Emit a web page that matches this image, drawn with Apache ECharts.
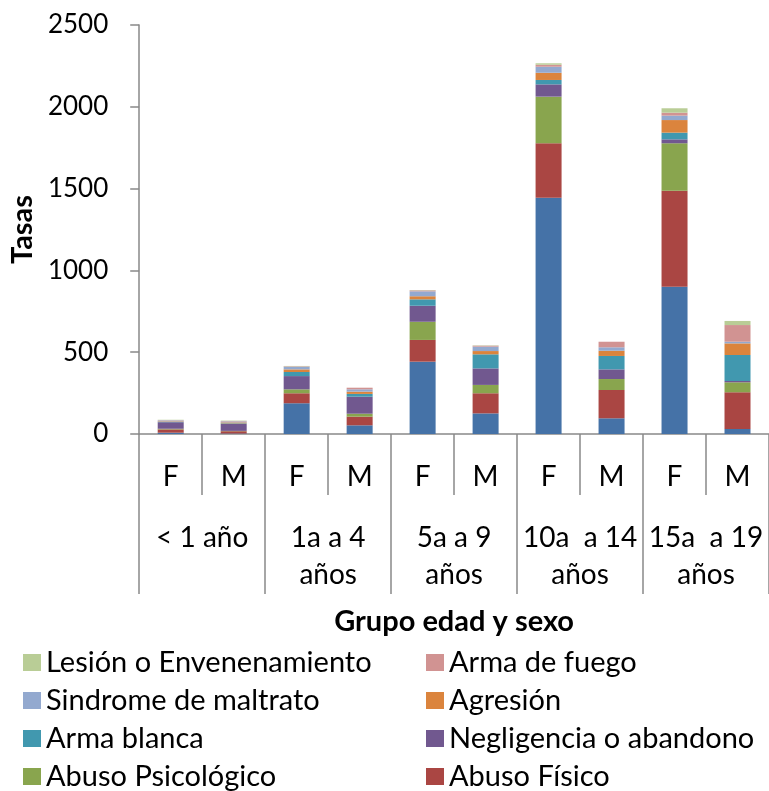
<!DOCTYPE html>
<html>
<head>
<meta charset="utf-8">
<script src="https://cdn.jsdelivr.net/npm/echarts@6/dist/echarts.min.js"></script>
<style>
html,body{margin:0;padding:0;background:#fff;}
#c{width:769px;height:791px;}
</style>
</head>
<body>
<div id="c"></div>
<script>
// Categories
const sexCats = ['F','M','F','M','F','M','F','M','F','M'];
const ageGroups = ['< 1 año','1a a 4\naños','5a a 9\naños','10a  a 14\naños','15a  a 19\naños'];
const yTicks = [0, 500, 1000, 1500, 2000, 2500];

// Series values (bottom to top of the stack)
const abusoSexual      = [8,   3,   188, 53,  442, 126, 1444, 96,  900, 31];
const abusoFisico      = [20,  14,  61,  53,  133, 123, 333,  173, 587, 224];
const abusoPsicologico = [4,   2,   24,  18,  111, 51,  285,  67,  290, 61];
const negligencia      = [40,  42,  81,  104, 98,  101, 75,   59,  24,  8];
const armaBlanca       = [3,   4,   25,  17,  39,  86,  27,   82,  41,  159];
const agresion         = [3,   6,   16,  14,  19,  20,  44,   32,  77,  71];
const sindrome         = [5,   6,   16,  14,  30,  27,  37,   21,  27,  10];
const armaFuego        = [2,   3,   3,   10,  6,   6,   12,   34,  18,  102];
const lesion           = [2,   2,   2,   0,   2,   2,   9,    0,   27,  25];

// Legend order (reading order, two columns)
const legendLeftCol  = ['Lesión o Envenenamiento','Sindrome de maltrato','Arma blanca','Abuso Psicológico'];
const legendRightCol = ['Arma de fuego','Agresión','Negligencia o abandono','Abuso Físico'];

const seriesDefs = [
  {name:'Abuso sexual', data:abusoSexual, color:'#4572A7'},
  {name:'Abuso Físico', data:abusoFisico, color:'#AA4643'},
  {name:'Abuso Psicológico', data:abusoPsicologico, color:'#89A54E'},
  {name:'Negligencia o abandono', data:negligencia, color:'#71588F'},
  {name:'Arma blanca', data:armaBlanca, color:'#4198AF'},
  {name:'Agresión', data:agresion, color:'#DB843D'},
  {name:'Sindrome de maltrato', data:sindrome, color:'#93A9CF'},
  {name:'Arma de fuego', data:armaFuego, color:'#D19392'},
  {name:'Lesión o Envenenamiento', data:lesion, color:'#B9CD96'}
];

const FONT = 'Lato';
const AXIS_COLOR = '#898989';
const chart = echarts.init(document.getElementById('c'), null, {renderer:'canvas'});

const legendText = {fontFamily:FONT, fontSize:29, color:'#000', lineHeight:28};
const rowY = [662, 700, 738, 776];
const legends = [];
legendLeftCol.forEach((n, i) => legends.push({
  left:23, top:rowY[i]-14, orient:'horizontal', itemWidth:18, itemHeight:17,
  icon:'rect', textStyle:legendText, selectedMode:false, padding:0, data:[n]}));
legendRightCol.forEach((n, i) => legends.push({
  left:426, top:rowY[i]-14, orient:'horizontal', itemWidth:18, itemHeight:17,
  icon:'rect', textStyle:legendText, selectedMode:false, padding:0, data:[n]}));

chart.setOption({
  animation:false,
  backgroundColor:'#fff',
  textStyle:{fontFamily:FONT},
  grid:{left:134, right:-3, top:25, bottom:357, containLabel:false},
  legend:legends,
  xAxis:[
    {type:'category', data:sexCats, position:'bottom',
     axisLine:{show:true, lineStyle:{color:AXIS_COLOR, width:1.5}},
     axisTick:{show:true, length:61, interval:0, lineStyle:{color:AXIS_COLOR, width:1.5}},
     axisLabel:{fontFamily:FONT, fontSize:28, color:'#000', margin:29, interval:0}
    },
    {type:'category', data:ageGroups, position:'bottom', offset:0,
     axisLine:{show:false},
     axisTick:{show:true, length:160, interval:0, lineStyle:{color:AXIS_COLOR, width:1.5}},
     axisLabel:{fontFamily:FONT, fontSize:28, color:'#000', margin:85, interval:0, lineHeight:37},
     name:'Grupo edad y sexo', nameLocation:'middle', nameGap:173,
     nameTextStyle:{fontFamily:FONT, fontSize:29, fontWeight:'bold', color:'#000'}
    }
  ],
  yAxis:{type:'value', min:yTicks[0], max:yTicks[yTicks.length-1], interval:500,
    splitLine:{show:false},
    axisLine:{show:true, lineStyle:{color:AXIS_COLOR, width:1.5}},
    axisTick:{show:true, length:9, lineStyle:{color:AXIS_COLOR, width:1.5}},
    axisLabel:{fontFamily:FONT, fontSize:26, color:'#000', margin:31, formatter:v => String(v)},
    name:'Tasas', nameLocation:'middle', nameGap:97, nameRotate:90,
    nameTextStyle:{fontFamily:FONT, fontSize:29, fontWeight:'bold', color:'#000'}
  },
  series: seriesDefs.map(s => ({
    name:s.name, type:'bar', stack:'total', xAxisIndex:0, data:s.data,
    barWidth:26, itemStyle:{color:s.color}
  }))
});
</script>
</body>
</html>
